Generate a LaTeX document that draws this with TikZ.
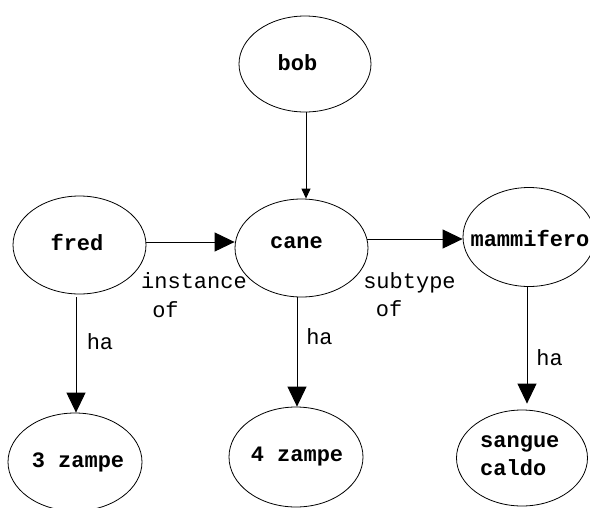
\documentclass[tikz,border=0pt]{standalone}
\usepackage{fontspec}
\newfontfamily\cour{Liberation Mono}
\usetikzlibrary{shapes.geometric,arrows.meta}
\tikzset{
  ell/.style={draw, ellipse, line width=0.8pt, inner sep=0pt},
  nlabel/.style={inner sep=0pt, font=\cour\bfseries\fontsize{22}{27}\selectfont},
  elabel/.style={inner sep=0pt, anchor=base, font=\cour\fontsize{22}{27}\selectfont},
  conn/.style={line width=1pt},
  bigtip/.style={-{Triangle[length=20pt,width=19pt]}},
  smalltip/.style={-{Triangle[length=10pt,width=9pt]}}
}
\begin{document}
\begin{tikzpicture}[x=1pt,y=-1pt]
\useasboundingbox (0,0) rectangle (590,507);
% ellipses
\node[ell, minimum width=132pt, minimum height=96pt] (bob) at (305,64) {};
\node[ell, minimum width=133pt, minimum height=98pt] (fred) at (79.5,245) {};
\node[ell, minimum width=133pt, minimum height=98pt] (cane) at (301.5,248) {};
\node[ell, minimum width=132pt, minimum height=99pt] (mamm) at (529,237) {};
\node[ell, minimum width=134pt, minimum height=98pt] (z3) at (75,462) {};
\node[ell, minimum width=134pt, minimum height=100pt] (z4) at (296,457) {};
\node[ell, minimum width=131pt, minimum height=96pt] (sc) at (522,458) {};
% node texts
\node[nlabel] (tbob) at (297.5,63) {bob};
\node[nlabel] (tfred) at (77,242) {fred};
\node[nlabel] (tcane) at (296.5,243) {cane};
\node[nlabel] (tmamm) at (530,238) {mammifero};
\node[nlabel] (tz3) at (78,462) {3 zampe};
\node[nlabel] (tz4) at (297,457) {4 zampe};
\node[nlabel, anchor=base west] (tsc1) at (480,447) {sangue};
\node[nlabel, anchor=base west] (tsc2) at (480,475) {caldo};
% connectors
\draw[conn, smalltip] ([xshift=1pt]bob.south) -- ([xshift=1pt]bob.south |- cane.north);
\draw[conn, bigtip] ([yshift=3pt]fred.east) -- ([yshift=3pt]fred.east -| cane.west);
\coordinate (cm) at ([yshift=9pt]cane.east);
\draw[conn, bigtip] ([xshift=-1pt]cm) -- (cm -| mamm.west);
\draw[conn, bigtip, shorten <=3pt] ([xshift=1pt]z3.north |- fred.south) -- ([xshift=1pt]z3.north);
\draw[conn, bigtip] ([xshift=1pt]z4.north |- cane.south) -- ([xshift=1pt]z4.north);
\draw[conn, bigtip, shorten >=6pt] ([xshift=-2pt]mamm.south) -- ([xshift=-2pt]mamm.south |- sc.north);
% edge labels
\node[elabel] (l1a) at (194,288) {instance};
\node[elabel] (l1b) at (165.5,317) {of};
\node[elabel] (l2a) at (409.5,288) {subtype};
\node[elabel] (l2b) at (389,316) {of};
\node[elabel] (l3) at (100,349) {ha};
\node[elabel] (l4) at (319.5,344) {ha};
\node[elabel] (l5) at (549.5,365) {ha};
\end{tikzpicture}
\end{document}
